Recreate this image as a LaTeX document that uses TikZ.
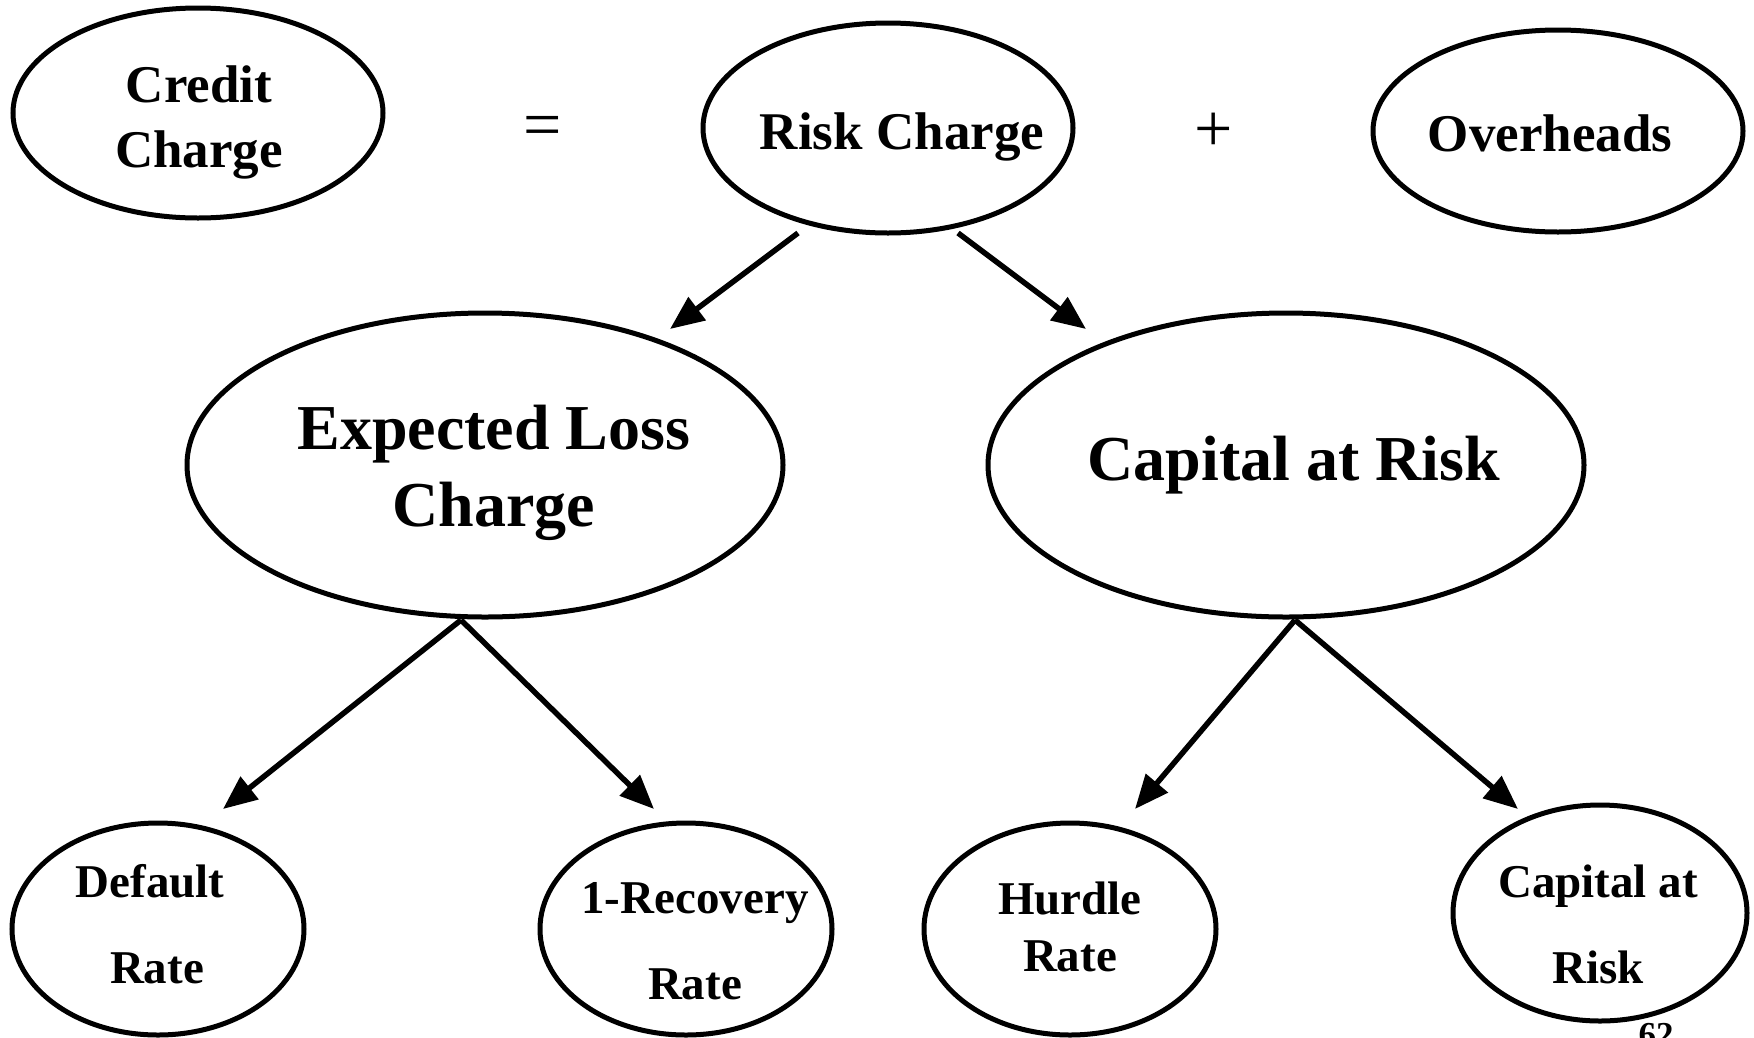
\documentclass[tikz,border=0pt]{standalone}
\usepackage{fontspec}
\setmainfont{Liberation Serif}
\usetikzlibrary{shapes.geometric,arrows.meta,calc}
\tikzset{
  oval/.style={draw=black, line width=5pt, ellipse, inner sep=0pt},
  big/.style={oval, minimum width=596pt, minimum height=304pt},
  top/.style={oval, minimum width=370pt, minimum height=210pt},
  small/.style={oval, minimum width=292pt, minimum height=212pt},
  txtA/.style={anchor=base, inner sep=0pt, font=\fontsize{53pt}{60pt}\selectfont\bfseries},
  txtB/.style={anchor=base, inner sep=0pt, font=\fontsize{64pt}{70pt}\selectfont\bfseries},
  txtC/.style={anchor=base, inner sep=0pt, font=\fontsize{47pt}{54pt}\selectfont\bfseries},
  sym/.style={anchor=center, inner sep=0pt, font=\fontsize{68pt}{74pt}\selectfont},
  arr/.style={line width=5.5pt, -{Triangle[length=34pt,width=28pt]}}
}
\begin{document}
\begin{tikzpicture}[x=1pt, y=-1pt]
\useasboundingbox (0,0) rectangle (1754,1037);
\clip (0,0) rectangle (1754,1037);
\fill[white] (0,0) rectangle (1754,1037);
% top row
\node[top] (cc) at (198,113) {};
\node[txtA] (cct1) at (199,102) {Credit};
\node[txtA] (cct2) at (199,167) {Charge};
\node[sym] (eq) at (543,132) {=};
\node[top] (rc) at (888,128) {};
\node[txtA] (rct) at (902,149) {Risk Charge};
\node[sym] (pl) at (1214,132) {+};
\node[top, minimum height=202pt] (oh) at (1558,131) {};
\node[txtA] (oht) at (1550,151) {Overheads};
% middle row
\node[big] (el) at (485,465) {};
\node[txtB] (elt1) at (494,449) {Expected Loss};
\node[txtB] (elt2) at (494,526) {Charge};
\node[big] (car) at (1286,465) {};
\node[txtB] (cart) at (1294,480) {Capital at Risk};
% bottom row
\node[small] (dr) at (158,929) {};
\node[txtC] (drt1) at (150,897) {Default};
\node[txtC] (drt2) at (157,983) {Rate};
\node[small] (rr) at (686,929) {};
\node[txtC] (rrt1) at (695,913) {1-Recovery};
\node[txtC] (rrt2) at (695,999) {Rate};
\node[small] (hr) at (1070,929) {};
\node[txtC] (hrt1) at (1070,914) {Hurdle};
\node[txtC] (hrt2) at (1070,971) {Rate};
\node[small, minimum width=294pt, minimum height=216pt] (cr) at (1600,913) {};
\node[txtC] (crt1) at (1598,897) {Capital at};
\node[txtC] (crt2) at (1598,983) {Risk};
\node[anchor=base, inner sep=0pt, font=\fontsize{35pt}{40pt}\selectfont\bfseries] (pg) at (1656,1046) {62};
% connector end points
\coordinate (rcL) at ($(rc.center)+(-90,105)$);
\coordinate (rcR) at ($(rc.center)+(70,105)$);
\coordinate (elIn) at ($(el.center)+(185,-136)$);
\coordinate (carIn) at ($(car.center)+(-200,-136)$);
\coordinate (elB) at ($(el.center)+(-24,155)$);
\coordinate (carB) at ($(car.center)+(9,155)$);
\coordinate (drIn) at ($(dr.center)+(65,-120)$);
\coordinate (rrIn) at ($(rr.center)+(-32,-120)$);
\coordinate (hrIn) at ($(hr.center)+(65,-120)$);
\coordinate (crIn) at ($(cr.center)+(-82,-104)$);
% connectors
\draw[arr] (rcL) -- (elIn);
\draw[arr] (rcR) -- (carIn);
\draw[arr] (elB) -- (drIn);
\draw[arr] (elB) -- (rrIn);
\draw[arr] (carB) -- (hrIn);
\draw[arr] (carB) -- (crIn);
\end{tikzpicture}
\end{document}
